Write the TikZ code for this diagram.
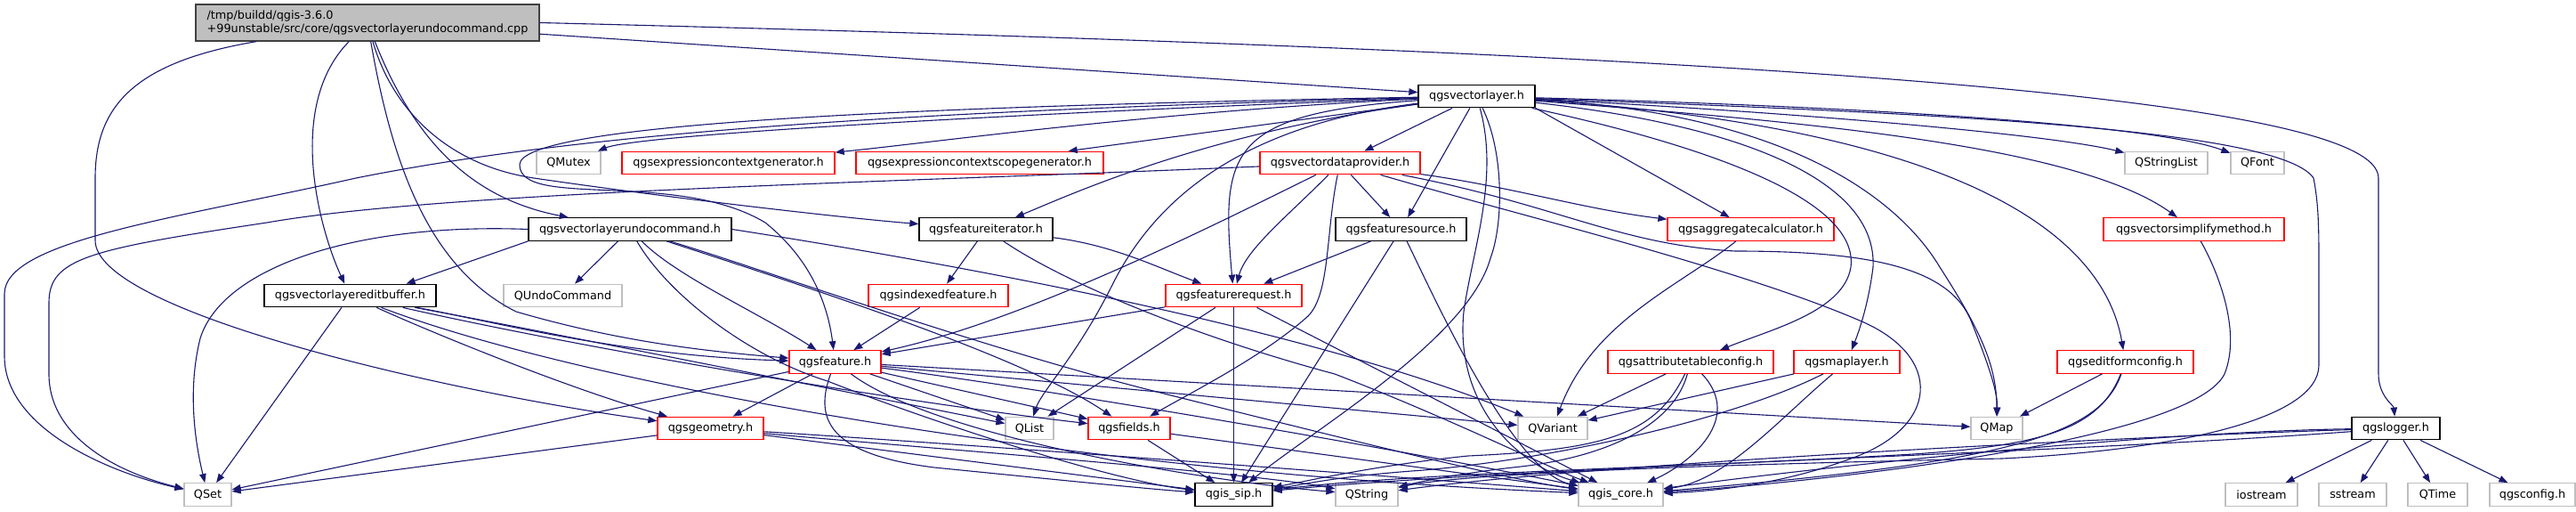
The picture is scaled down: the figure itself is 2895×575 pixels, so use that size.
\documentclass[tikz,border=0pt]{standalone}
\usepackage{fontspec}
\setmainfont{DejaVu Sans}
\usetikzlibrary{arrows.meta}
\definecolor{eblue}{HTML}{191970}
\definecolor{gbord}{HTML}{BFBFBF}
\definecolor{rbord}{HTML}{FF0000}
\definecolor{rootfill}{HTML}{BFBFBF}
\definecolor{rootbord}{HTML}{404040}
\begin{document}
\begin{tikzpicture}[x=1pt,y=-1pt,
  nd/.style={draw, line width=1.3pt, fill=white, inner sep=0pt, minimum height=25.5pt, text=black, font=\fontsize{12.8}{15.5}\selectfont},
  bn/.style={nd, draw=black},
  rn/.style={nd, draw=rbord},
  gn/.style={nd, draw=gbord},
  rootn/.style={nd, draw=rootbord, fill=rootfill},
  e/.style={draw=eblue, line width=1.1pt, -{Triangle[length=10pt,width=7.5pt]}}]
\useasboundingbox (0,0) rectangle (2895,575);
\fill[white] (0,0) rectangle (2895,575);
% nodes
\node[rootn, minimum width=386pt, minimum height=41pt, align=left] (root) at (413,25.5) {/tmp/buildd/qgis-3.6.0\\+99unstable/src/core/qgsvectorlayerundocommand.cpp};
\node[bn, minimum width=131pt] (vl) at (1659.5,108) {qgsvectorlayer.h};
\node[gn, minimum width=72pt] (qmutex) at (639,183) {QMutex};
\node[rn, minimum width=239pt] (ecg) at (818.5,183) {qgsexpressioncontextgenerator.h};
\node[rn, minimum width=278pt] (ecsg) at (1101,183) {qgsexpressioncontextscopegenerator.h};
\node[rn, minimum width=180pt] (vdp) at (1506,183) {qgsvectordataprovider.h};
\node[gn, minimum width=93pt] (qstrlist) at (2434.5,183) {QStringList};
\node[gn, minimum width=60pt] (qfont) at (2537,183) {QFont};
\node[bn, minimum width=228pt] (vluc) at (708,257.5) {qgsvectorlayerundocommand.h};
\node[bn, minimum width=150pt] (fit) at (1108,257.5) {qgsfeatureiterator.h};
\node[bn, minimum width=147pt] (fsrc) at (1574.5,257.5) {qgsfeaturesource.h};
\node[rn, minimum width=187pt] (aggc) at (1967.5,257.5) {qgsaggregatecalculator.h};
\node[rn, minimum width=203pt] (vsm) at (2465.5,257.5) {qgsvectorsimplifymethod.h};
\node[bn, minimum width=193pt] (vleb) at (393.5,332) {qgsvectorlayereditbuffer.h};
\node[gn, minimum width=133pt] (qundo) at (632.5,332) {QUndoCommand};
\node[rn, minimum width=157pt] (idxf) at (1054.5,332) {qgsindexedfeature.h};
\node[rn, minimum width=153pt] (freq) at (1386.5,332) {qgsfeaturerequest.h};
\node[rn, minimum width=103pt] (feat) at (938.5,406.5) {qgsfeature.h};
\node[rn, minimum width=186pt] (atc) at (1900,406.5) {qgsattributetableconfig.h};
\node[rn, minimum width=119pt] (mapl) at (2075.5,406.5) {qgsmaplayer.h};
\node[rn, minimum width=153pt] (efc) at (2388.5,406.5) {qgseditformconfig.h};
\node[rn, minimum width=119pt] (geom) at (798.5,481) {qgsgeometry.h};
\node[gn, minimum width=54pt] (qlist) at (1157,481) {QList};
\node[rn, minimum width=92pt] (fields) at (1269,481) {qgsfields.h};
\node[gn, minimum width=78pt] (qvariant) at (1745,481) {QVariant};
\node[gn, minimum width=58pt] (qmap) at (2244,481) {QMap};
\node[bn, minimum width=99pt] (logger) at (2692.5,481) {qgslogger.h};
\node[gn, minimum width=53pt] (qset) at (233.5,555.5) {QSet};
\node[bn, minimum width=87pt] (sip) at (1386.5,555.5) {qgis\_sip.h};
\node[gn, minimum width=70pt] (qstring) at (1536,555.5) {QString};
\node[gn, minimum width=95pt] (core) at (1821.5,555.5) {qgis\_core.h};
\node[gn, minimum width=81pt] (iostream) at (2541.5,555.5) {iostream};
\node[gn, minimum width=76pt] (sstream) at (2644,555.5) {sstream};
\node[gn, minimum width=67pt] (qtime) at (2739.5,555.5) {QTime};
\node[gn, minimum width=96pt] (qgsconfig) at (2846,555.5) {qgsconfig.h};
% root edges
\draw[e] (root) -- (vl);
\draw[e] (root.east) .. controls (2000,60) and (2673,110) .. (2673,200) -- (2673,420) .. controls (2673,445) and (2690,455) .. (logger);
\draw[e] (root) .. controls (320,120) and (360,260) .. (vleb);
\draw[e] (root) .. controls (440,180) and (480,300) .. (580,350) .. controls (700,385) and (800,395) .. (feat);
\draw[e] (root) .. controls (470,170) and (540,225) .. (vluc);
\draw[e] (root) .. controls (440,120) and (500,185) .. (600,200) .. controls (750,222) and (950,245) .. (fit);
\draw[e] (root) .. controls (150,70) and (107,120) .. (107,200) -- (107,270) .. controls (107,350) and (500,440) .. (geom);
% vl edges
\draw[e] (vl) .. controls (1200,125) and (720,150) .. (qmutex);
\draw[e] (vl) .. controls (1300,125) and (1050,160) .. (ecg);
\draw[e] (vl) -- (ecsg);
\draw[e] (vl) -- (vdp);
\draw[e] (vl) .. controls (2000,125) and (2300,150) .. (qstrlist);
\draw[e] (vl) .. controls (2100,120) and (2420,140) .. (qfont);
\draw[e] (vl) .. controls (2000,135) and (2330,160) .. (vsm);
\draw[e] (vl) .. controls (2150,140) and (2360,240) .. (efc);
\draw[e] (vl.south east) -- (aggc);
\draw[e] (vl) .. controls (1900,160) and (2090,220) .. (2080,300) .. controls (2072,350) and (1990,370) .. (atc);
\draw[e] (vl) .. controls (1950,140) and (2110,200) .. (2105,300) .. controls (2100,340) and (2090,370) .. (mapl);
\draw[e] (vl) .. controls (2050,130) and (2150,250) .. (2180,300) .. controls (2225,370) and (2244,410) .. (qmap);
\draw[e] (vl) .. controls (1350,150) and (1200,220) .. (fit);
\draw[e] (vl) -- (fsrc);
\draw[e] (vl) .. controls (1380,128) and (1372,170) .. (freq);
\draw[e] (vl) .. controls (1000,120) and (584,140) .. (584,185) .. controls (584,235) and (760,190) .. (860,250) .. controls (910,290) and (930,340) .. (feat);
\draw[e] (vl) .. controls (1400,140) and (1300,220) .. (1250,320) .. controls (1210,400) and (1170,440) .. (qlist);
\draw[e] (vl) .. controls (1000,125) and (650,150) .. (400,200) .. controls (200,245) and (5,270) .. (5,330) -- (5,400) .. controls (5,480) and (120,530) .. (qset);
\draw[e] (vl) .. controls (1690,170) and (1690,250) .. (1675,290) .. controls (1650,380) and (1480,480) .. (sip);
\draw[e] (vl) .. controls (1685,200) and (1655,280) .. (1645,350) .. controls (1635,450) and (1700,520) .. (core);
\draw[e] (vl) .. controls (2100,125) and (2560,140) .. (2600,200) .. controls (2606,230) and (2606,260) .. (2606,300) -- (2606,410) .. controls (2606,470) and (2450,505) .. (2250,515) .. controls (2000,520) and (1650,530) .. (qstring);
% vdp edges
\draw[e] (vdp) -- (fsrc);
\draw[e] (vdp) .. controls (1450,240) and (1400,280) .. (freq);
\draw[e] (vdp) .. controls (1490,260) and (1495,330) .. (1470,355) .. controls (1420,400) and (1340,440) .. (fields);
\draw[e] (vdp) .. controls (1350,260) and (1150,360) .. (feat);
\draw[e] (vdp) .. controls (1700,210) and (1780,235) .. (aggc);
\draw[e] (vdp) .. controls (1750,230) and (1820,275) .. (1950,282) .. controls (2100,282) and (2190,300) .. (2215,360) .. controls (2235,410) and (2245,440) .. (qmap);
\draw[e] (vdp) .. controls (1700,240) and (1950,300) .. (2090,360) .. controls (2185,400) and (2180,480) .. (2080,515) .. controls (2000,545) and (1920,552) .. (core);
\draw[e] (vdp) .. controls (1000,205) and (500,215) .. (300,250) .. controls (100,280) and (55,290) .. (55,340) -- (55,420) .. controls (55,490) and (130,530) .. (qset);
% vluc edges
\draw[e] (vluc.south west) -- (vleb.12);
\draw[e] (vluc) -- (qundo);
\draw[e] (vluc) .. controls (760,310) and (850,350) .. (feat);
\draw[e] (vluc.west) .. controls (400,250) and (250,300) .. (225,380) .. controls (210,440) and (220,500) .. (qset);
\draw[e] (vluc) .. controls (750,330) and (840,400) .. (930,428) .. controls (1050,475) and (1250,540) .. (sip);
\draw[e] (vluc) .. controls (900,320) and (1150,400) .. (fields);
\draw[e] (vluc.east) .. controls (1000,285) and (1450,360) .. (qvariant);
\draw[e] (vluc) .. controls (850,300) and (1100,390) .. (1300,440) .. controls (1500,490) and (1700,540) .. (core);
% vleb edges
\draw[e] (vleb) -- (qset);
\draw[e] (vleb) .. controls (550,360) and (700,400) .. (feat);
\draw[e] (vleb) .. controls (500,380) and (650,440) .. (geom);
\draw[e] (vleb) .. controls (600,370) and (900,430) .. (qlist);
\draw[e] (vleb) .. controls (650,390) and (1000,450) .. (fields);
\draw[e] (vleb) .. controls (650,430) and (1200,530) .. (core);
% fit, fsrc, idxf
\draw[e] (fit) -- (idxf);
\draw[e] (fit) .. controls (1250,275) and (1300,300) .. (freq);
\draw[e] (fit) .. controls (1200,320) and (1350,380) .. (1500,420) .. controls (1630,470) and (1740,525) .. (core);
\draw[e] (fsrc) -- (freq);
\draw[e] (fsrc) -- (sip);
\draw[e] (fsrc) .. controls (1610,330) and (1700,530) .. (core);
\draw[e] (idxf) -- (feat);
% freq
\draw[e] (freq) -- (feat);
\draw[e] (freq) -- (qlist);
\draw[e] (freq) -- (sip);
\draw[e] (freq) -- (core);
% fields
\draw[e] (fields) -- (sip);
\draw[e] (fields) -- (core);
% feat
\draw[e] (feat) -- (geom);
\draw[e] (feat) -- (qset);
\draw[e] (feat) -- (qlist);
\draw[e] (feat) -- (fields);
\draw[e] (feat) -- (qvariant);
\draw[e] (feat) -- (qmap);
\draw[e] (feat) .. controls (915,470) and (930,510) .. (1050,525) .. controls (1200,540) and (1300,550) .. (sip);
\draw[e] (feat) .. controls (1050,490) and (1350,540) .. (qstring);
\draw[e] (feat) .. controls (1200,440) and (1600,510) .. (core);
% geom
\draw[e] (geom) -- (qset);
\draw[e] (geom) -- (sip);
\draw[e] (geom) .. controls (1000,500) and (1400,530) .. (qstring);
\draw[e] (geom) .. controls (1100,500) and (1500,530) .. (core);
% atc, mapl, efc, vsm, aggc
\draw[e] (atc) -- (qvariant);
\draw[e] (atc) .. controls (1860,490) and (1800,505) .. (1650,512) .. controls (1550,522) and (1470,540) .. (sip);
\draw[e] (atc) .. controls (1880,480) and (1800,515) .. (1700,525) .. controls (1640,532) and (1600,540) .. (qstring);
\draw[e] (atc) .. controls (1960,470) and (1900,520) .. (core);
\draw[e] (mapl) -- (qvariant);
\draw[e] (mapl) .. controls (1950,470) and (1750,515) .. (1600,528) .. controls (1500,535) and (1460,545) .. (sip);
\draw[e] (mapl) .. controls (2000,470) and (1940,540) .. (core);
\draw[e] (efc) -- (qmap);
\draw[e] (efc) .. controls (2360,490) and (2250,520) .. (core);
\draw[e] (efc) .. controls (2360,480) and (2300,500) .. (2150,510) .. controls (1900,525) and (1600,530) .. (sip);
\draw[e] (vsm) .. controls (2490,300) and (2520,370) .. (2500,420) .. controls (2460,500) and (2000,545) .. (core);
\draw[e] (aggc) .. controls (1890,320) and (1790,360) .. (qvariant);
% logger
\draw[e] (logger) -- (iostream);
\draw[e] (logger) -- (sstream);
\draw[e] (logger) -- (qtime);
\draw[e] (logger) -- (qgsconfig);
\draw[e] (logger) .. controls (2400,485) and (2000,530) .. (core);
\draw[e] (logger) .. controls (2400,490) and (1800,520) .. (qstring);
\draw[e] (logger) .. controls (2300,510) and (1700,525) .. (sip);
\end{tikzpicture}
\end{document}
